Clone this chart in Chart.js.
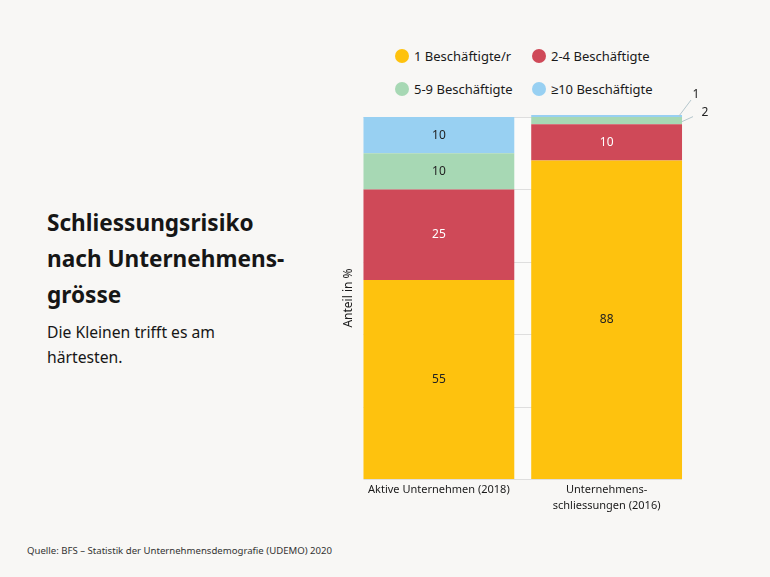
<!DOCTYPE html>
<html><head><meta charset="utf-8">
<script src="https://cdn.jsdelivr.net/npm/chart.js@4.4.1/dist/chart.umd.min.js"></script>
<style>
html,body{margin:0;padding:0;background:#f8f7f5;}
body{width:770px;height:577px;position:relative;overflow:hidden;font-family:"Noto Sans",sans-serif;color:#161616;}
#title{position:absolute;left:47px;top:205px;font-weight:700;font-size:22.6px;line-height:36px;white-space:nowrap;}
#sub{position:absolute;left:47px;top:320px;font-size:15.7px;line-height:25px;white-space:nowrap;}
#src{position:absolute;left:27px;top:544px;font-size:9.6px;color:#333;white-space:nowrap;}
#legend{position:absolute;left:395px;top:45px;width:300px;height:60px;}
.li{position:absolute;font-size:13px;line-height:22px;white-space:nowrap;color:#1a1a1a;}
.li span.dot{position:absolute;left:0;top:4px;width:14px;height:14px;border-radius:50%;}
.li span.tx{position:absolute;left:19px;top:0;}
#wrap{position:absolute;left:300px;top:80px;width:444px;height:450px;}
</style></head>
<body>
<div id="title">Schliessungsrisiko<br>nach Unternehmens-<br>grösse</div>
<div id="sub">Die Kleinen trifft es am<br>härtesten.</div>
<div id="src">Quelle: BFS – Statistik der Unternehmensdemografie (UDEMO) 2020</div>
<div id="legend"></div>
<div id="wrap"><canvas id="c"></canvas></div>
<script>
const categories = [["Aktive Unternehmen (2018)"], ["Unternehmens-", "schliessungen (2016)"]];
const seriesNames = ["1 Beschäftigte/r", "2-4 Beschäftigte", "5-9 Beschäftigte", "≥10 Beschäftigte"];
const oneEmployee = [55, 88];
const twoToFour = [25, 10];
const fiveToNine = [10, 2];
const tenPlus = [10, 1];
const seriesColors = ["#fec20e", "#cf4958", "#a7d8b4", "#98d0f2"];
const labelColors = ["#222222", "#ffffff", "#222222", "#222222"];
const yTitle = "Anteil in %";

const seriesValues = [oneEmployee, twoToFour, fiveToNine, tenPlus];

// HTML legend in a 2x2 grid
const legendPos = [[0, 0], [137, 0], [0, 33], [137, 33]];
const lg = document.getElementById('legend');
seriesNames.forEach((n, i) => {
  const d = document.createElement('div');
  d.className = 'li';
  d.style.left = legendPos[i][0] + 'px';
  d.style.top = legendPos[i][1] + 'px';
  d.innerHTML = '<span class="dot" style="background:' + seriesColors[i] + '"></span><span class="tx">' + n + '</span>';
  lg.appendChild(d);
});

// plot background + horizontal grid, limited to the span covered by the bars
const plotBg = {
  id: 'plotBg',
  beforeDatasetsDraw(chart) {
    const {ctx, chartArea: a, scales: {y}} = chart;
    const els = chart.getDatasetMeta(0).data;
    if (!els.length) return;
    const x0 = els[0].x - els[0].width / 2;
    const x1 = els[els.length - 1].x + els[els.length - 1].width / 2;
    ctx.save();
    ctx.fillStyle = '#fbfbfa';
    ctx.fillRect(x0, a.top, x1 - x0, a.bottom - a.top);
    ctx.strokeStyle = '#dedede';
    ctx.lineWidth = 1;
    y.ticks.forEach(t => {
      const py = Math.round(y.getPixelForValue(t.value)) + 0.5;
      ctx.beginPath();
      ctx.moveTo(x0, py);
      ctx.lineTo(x1, py);
      ctx.stroke();
    });
    ctx.restore();
  }
};

const valueLabels = {
  id: 'valueLabels',
  afterDatasetsDraw(chart) {
    const {ctx, chartArea: a} = chart;
    ctx.save();
    ctx.font = '12px "Noto Sans", sans-serif';
    ctx.textAlign = 'center';
    ctx.textBaseline = 'middle';
    chart.data.datasets.forEach((ds, i) => {
      const meta = chart.getDatasetMeta(i);
      meta.data.forEach((el, j) => {
        const v = ds.data[j];
        if (v >= 5) {
          ctx.fillStyle = labelColors[i];
          ctx.fillText(String(v), el.x, (el.y + el.base) / 2);
        } else {
          // small values: leader line + label outside right
          const right = el.x + el.width / 2;
          const top = Math.max(el.y, a.top - 2);
          const mid = (Math.max(el.y, a.top) + el.base) / 2;
          ctx.strokeStyle = '#b4c6cc';
          ctx.lineWidth = 1;
          ctx.beginPath();
          ctx.fillStyle = '#222222';
          if (i === 3) {
            ctx.moveTo(right - 3, top + 1);
            ctx.lineTo(right + 9, top - 15);
            ctx.stroke();
            ctx.fillText(String(v), right + 14, top - 20);
          } else {
            ctx.moveTo(right, mid + 1);
            ctx.lineTo(right + 11, mid - 4);
            ctx.stroke();
            ctx.fillText(String(v), right + 23, mid - 8);
          }
        }
      });
    });
    ctx.restore();
  }
};

new Chart(document.getElementById('c'), {
  type: 'bar',
  data: {
    labels: categories,
    datasets: seriesNames.map((n, i) => ({
      label: n,
      data: seriesValues[i],
      backgroundColor: seriesColors[i],
      borderWidth: 0,
      barPercentage: 1,
      categoryPercentage: 0.899,
      clip: {left: 0, right: 0, top: 2, bottom: 0}
    }))
  },
  options: {
    responsive: true,
    maintainAspectRatio: false,
    animation: false,
    layout: {padding: {left: 43, right: 53.5, top: 37, bottom: 13}},
    plugins: {legend: {display: false}, tooltip: {enabled: false}},
    scales: {
      x: {
        stacked: true,
        grid: {display: false, drawTicks: false},
        border: {display: false},
        ticks: {color: '#1a1a1a', font: {size: 11, family: '"Noto Sans", sans-serif', lineHeight: 1.45}, padding: 3}
      },
      y: {
        stacked: true,
        min: 0, max: 100,
        ticks: {display: false, stepSize: 20},
        grid: {display: false, drawTicks: false},
        border: {display: false},
        title: {display: true, text: yTitle, color: '#1a1a1a', font: {size: 12, family: '"Noto Sans", sans-serif', lineHeight: 1.0}, padding: {top: 0, bottom: 0}}
      }
    }
  },
  plugins: [plotBg, valueLabels]
});
</script>
</body></html>
